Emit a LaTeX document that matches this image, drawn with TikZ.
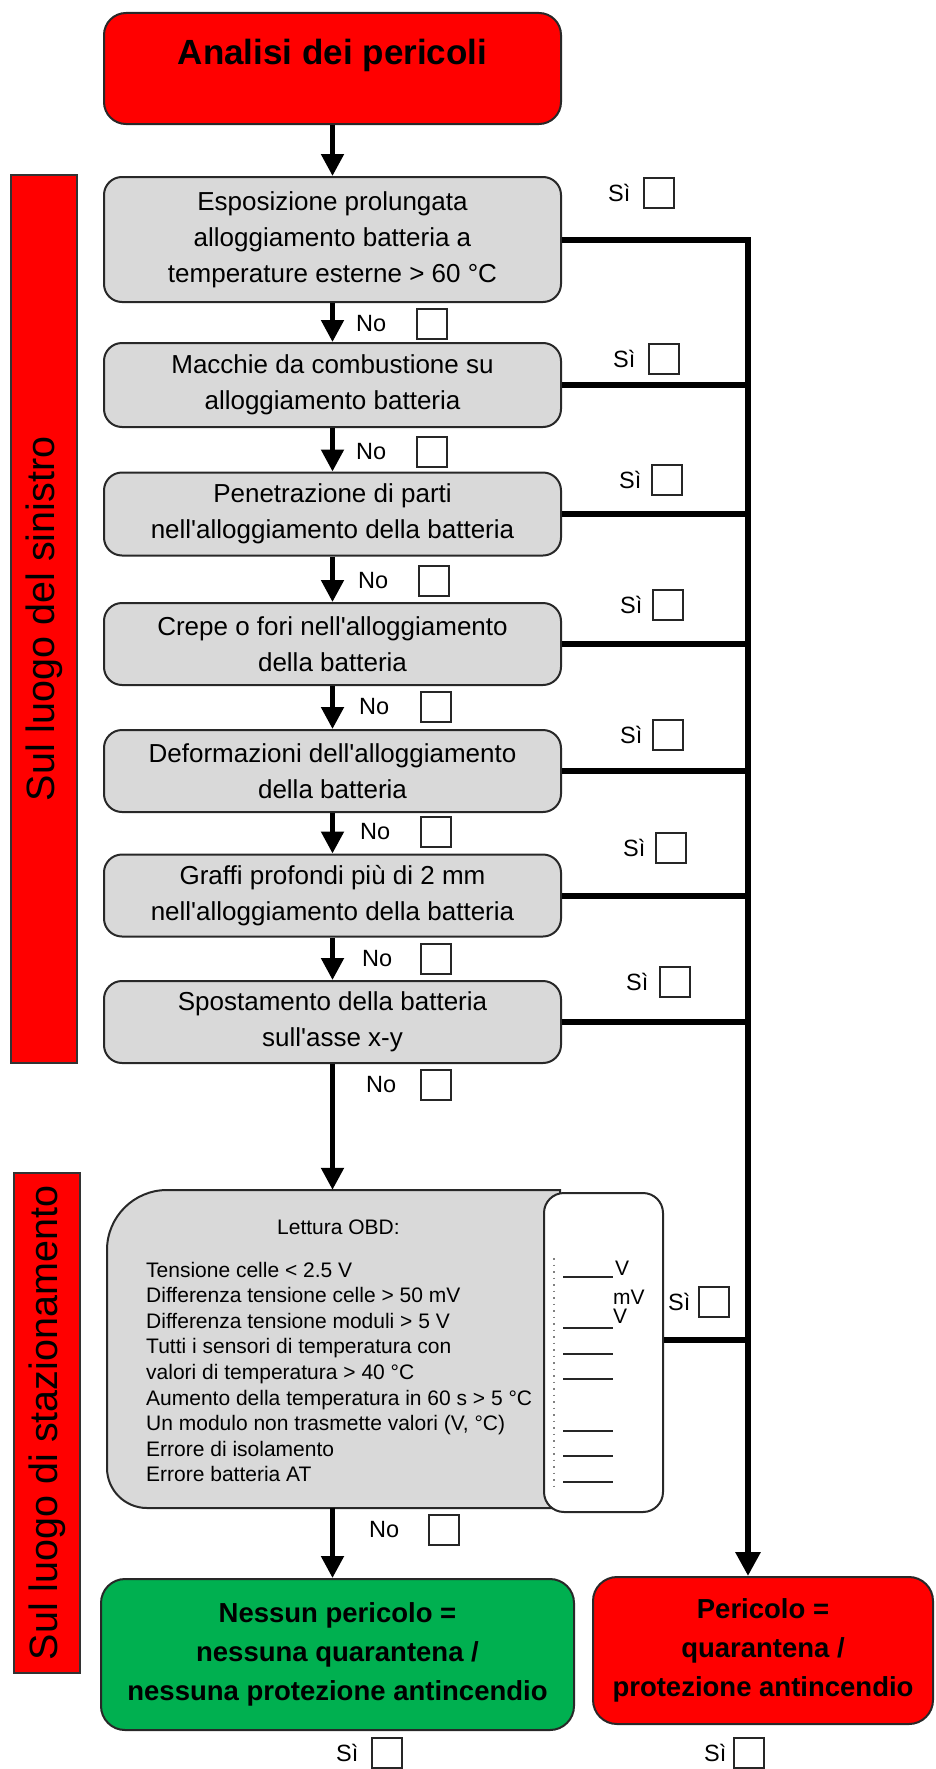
\documentclass[tikz,border=0pt]{standalone}
\usepackage{fontspec}
\setmainfont{Liberation Sans}
\usetikzlibrary{arrows.meta}
\definecolor{boxgray}{RGB}{217,217,217}
\definecolor{redfill}{RGB}{255,0,0}
\definecolor{greenfill}{RGB}{0,176,80}
\definecolor{edge}{RGB}{40,40,40}
\newcommand{\apo}{\textquotesingle}
\begin{document}
\begin{tikzpicture}[x=1pt,y=1pt,
  gbox/.style={draw=edge, fill=boxgray, line width=2pt, rounded corners=18pt, minimum width=457pt, inner sep=0pt, align=center, font=\fontsize{26}{36}\selectfont},
  outbox/.style={draw=edge, line width=2pt, rounded corners=24pt, inner sep=0pt, align=center, font=\fontsize{27.5}{39}\selectfont\bfseries},
  bar/.style={draw=black!80, fill=redfill, line width=1.5pt, inner sep=0pt, rotate=90, font=\fontsize{39.5}{42}\selectfont},
  arr/.style={line width=5pt, -{Triangle[width=22pt,length=22pt]}},
  yline/.style={line width=6pt},
  yarr/.style={line width=6pt, -{Triangle[width=24pt,length=24pt]}},
  lbl/.style={font=\fontsize{23.5}{28}\selectfont, inner sep=0pt, anchor=west},
  cb/.style={draw=black!85, line width=1.8pt, minimum width=30pt, minimum height=30pt, inner sep=0pt, anchor=west},
  obdtxt/.style={anchor=base west, inner sep=0pt, font=\fontsize{21}{25}\selectfont},
  blankline/.style={line width=2pt, black!85}
]
\useasboundingbox (0,0) rectangle (935,-1769);

% side bars
\node[bar, minimum width=888pt, minimum height=66pt] (bar1) at (44,-619) {Sul luogo del sinistro};
\node[bar, minimum width=500pt, minimum height=66pt] (bar2) at (47,-1423) {Sul luogo di stazionamento};

% title
\node[draw=edge, fill=redfill, line width=2pt, rounded corners=22pt, minimum width=457pt, minimum height=111pt, inner sep=0pt] (top) at (332.5,-68.5) {};
\node[font=\fontsize{35}{40}\selectfont\bfseries, inner sep=0pt] (toptitle) at (332.5,-55) {Analisi dei pericoli};

% question boxes
\node[gbox, minimum height=125pt] (b1) at (332.5,-239.5) {Esposizione prolungata\\alloggiamento batteria a\\temperature esterne > 60 °C};
\node[gbox, minimum height=84pt] (b2) at (332.5,-385) {Macchie da combustione su\\alloggiamento batteria};
\node[gbox, minimum height=83pt] (b3) at (332.5,-514) {Penetrazione di parti\\nell\apo alloggiamento della batteria};
\node[gbox, minimum height=82pt] (b4) at (332.5,-644) {Crepe o fori nell\apo alloggiamento\\della batteria};
\node[gbox, minimum height=82pt] (b5) at (332.5,-771) {Deformazioni dell\apo alloggiamento\\della batteria};
\node[gbox, minimum height=82pt] (b6) at (332.5,-895.5) {Graffi profondi più di 2 mm\\nell\apo alloggiamento della batteria};
\node[gbox, minimum height=82pt] (b7) at (332.5,-1022) {Spostamento della batteria\\sull\apo asse x-y};

% OBD box
\node[minimum width=453pt, minimum height=318pt, inner sep=0pt] (obd) at (333.5,-1349) {};
\draw[draw=edge, fill=boxgray, line width=2pt]
  (560,-1190) -- (167,-1190) arc[start angle=90, end angle=180, radius=60]
  -- (107,-1468) arc[start angle=180, end angle=270, radius=40]
  -- (560,-1508) -- cycle;
\node[draw=edge, fill=white, line width=2pt, rounded corners=20pt, minimum width=119pt, minimum height=319pt, inner sep=0pt] (obdv) at (603.5,-1352.5) {};
\node[obdtxt] (obdhead) at (277,-1234) {Lettura OBD:};
\foreach \t [count=\i] in {Tensione celle < 2.5 V, Differenza tensione celle > 50 mV, Differenza tensione moduli > 5 V, Tutti i sensori di temperatura con, valori di temperatura > 40 °C, Aumento della temperatura in 60 s > 5 °C, {Un modulo non trasmette valori (V, °C)}, Errore di isolamento, Errore batteria AT}
  \node[obdtxt] (obdl\i) at (146,{-1277-(\i-1)*25.6}) {\t};
\draw[gray, line width=1.5pt, dash pattern=on 1.5pt off 5pt] (554,-1258) -- (554,-1490);
\foreach \k in {1,3,4,5,7,8,9}
  \draw[blankline] (563,{-1277-(\k-1)*25.6}) -- (613,{-1277-(\k-1)*25.6});
\node[obdtxt] (u1) at (615,-1275) {V};
\node[obdtxt] (u2) at (613,-1304) {mV};
\node[obdtxt] (u3) at (613,-1323) {V};

% outcome boxes
\node[outbox, fill=greenfill, minimum width=473pt, minimum height=151pt] (safe) at (337.5,-1654.5) {Nessun pericolo =\\nessuna quarantena /\\nessuna protezione antincendio};
\node[outbox, fill=redfill, minimum width=340pt, minimum height=147pt] (danger) at (763,-1650.5) {Pericolo =\\quarantena /\\protezione antincendio};

% main arrows
\draw[arr] (top.south) -- (b1.north);
\draw[arr] (b1.south) -- (b2.north);
\draw[arr] (b2.south) -- (b3.north);
\draw[arr] (b3.south) -- (b4.north);
\draw[arr] (b4.south) -- (b5.north);
\draw[arr] (b5.south) -- (b6.north);
\draw[arr] (b6.south) -- (b7.north);
\draw[arr] (b7.south) -- (b7.south |- obd.north);
\draw[arr] (b7.south |- obd.south) -- (b7.south |- safe.north);

% yes lines
\coordinate (vx) at (748,0);
\draw[yarr] (b1.east) -- (b1.east -| vx) -- (vx |- danger.north);
\foreach \n in {b2,b3,b4,b5,b6,b7}
  \draw[yline] (\n.east) -- (\n.east -| vx);
\draw[yline] ([yshift=12.5pt]obdv.east) -- ([yshift=12.5pt]obdv.east -| vx);

% No labels
\foreach \y/\xa/\xb [count=\i] in {324/356/416, 452/356/416, 581/358/418, 707/359/420, 832/360/420, 959/362/420, 1085/366/420, 1530/369/428}{
  \node[lbl] (no\i) at (\xa,-\y) {No};
  \node[cb] (nobox\i) at (\xb,-\y) {};
}
% Si labels
\foreach \y/\xa/\xb [count=\i] in {193/608/643, 359/613/648, 480/619/651, 605/620/652, 735/620/652, 848/623/655, 982/626/659, 1302/668/698, 1753/336/371, 1753/704/733}{
  \node[lbl] (si\i) at (\xa,-\y) {Sì};
  \node[cb] (sibox\i) at (\xb,-\y) {};
}
\end{tikzpicture}
\end{document}
